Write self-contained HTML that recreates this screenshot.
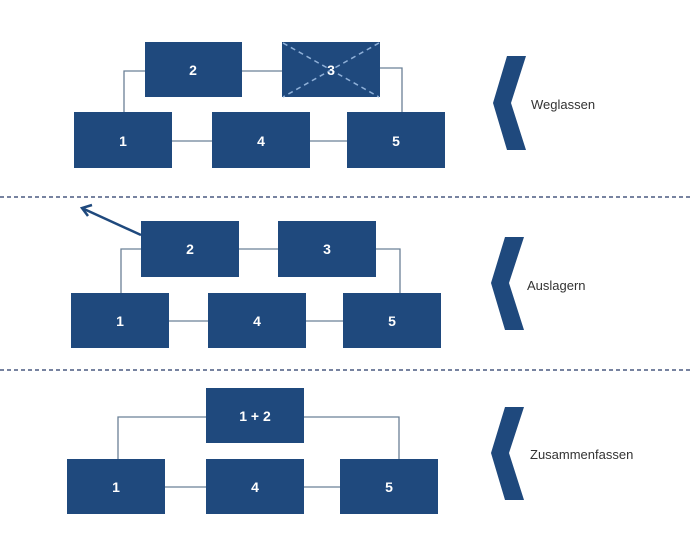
<!DOCTYPE html>
<html><head><style>
body{margin:0;background:#fff;width:700px;height:536px;overflow:hidden}
svg text{font-family:"Liberation Sans",sans-serif}
</style></head><body>
<svg width="700" height="536" xmlns="http://www.w3.org/2000/svg">
<g stroke="#6b8096" stroke-width="1.3" fill="none">
<polyline points="124,112 124,71 145,71"/><line x1="242" y1="71" x2="282" y2="71"/><polyline points="380,68 402,68 402,112"/>
<line x1="172" y1="141" x2="212" y2="141"/><line x1="310" y1="141" x2="347" y2="141"/>
<polyline points="121,293 121,249 141,249"/><line x1="239" y1="249" x2="278" y2="249"/><polyline points="376,249 400,249 400,293"/>
<line x1="169" y1="321" x2="208" y2="321"/><line x1="306" y1="321" x2="343" y2="321"/>
<polyline points="118,459 118,417 206,417"/><polyline points="304,417 399,417 399,459"/>
<line x1="165" y1="487" x2="206" y2="487"/><line x1="304" y1="487" x2="340" y2="487"/>
</g>
<g stroke="#4a5a80" stroke-width="1.5" stroke-dasharray="4,3">
<line x1="0" y1="197" x2="690" y2="197"/><line x1="0" y1="370" x2="690" y2="370"/>
</g>
<g fill="#1f497d">
<rect x="145" y="42" width="97" height="55"/><rect x="282" y="42" width="98" height="55"/>
<rect x="74" y="112" width="98" height="56"/><rect x="212" y="112" width="98" height="56"/><rect x="347" y="112" width="98" height="56"/>
<rect x="141" y="221" width="98" height="56"/><rect x="278" y="221" width="98" height="56"/>
<rect x="71" y="293" width="98" height="55"/><rect x="208" y="293" width="98" height="55"/><rect x="343" y="293" width="98" height="55"/>
<rect x="206" y="388" width="98" height="55"/>
<rect x="67" y="459" width="98" height="55"/><rect x="206" y="459" width="98" height="55"/><rect x="340" y="459" width="98" height="55"/>
<polygon points="507,56 526,56 511,103 526,150 507,150 493,103"/>
<polygon points="505,237 524,237 509,283 524,330 505,330 491,283"/>
<polygon points="505,407 524,407 509,453 524,500 505,500 491,453"/>
</g>
<g stroke="#8fb0d8" stroke-width="1.5" stroke-dasharray="5,4">
<line x1="283" y1="43" x2="379" y2="97"/><line x1="379" y1="43" x2="283" y2="97"/>
</g>
<g stroke="#1f497d" stroke-width="2.5" fill="none">
<line x1="141" y1="235" x2="84" y2="209"/><polyline points="92,205 82,208 88,216"/>
</g>
<g fill="#fff" font-size="14" font-weight="bold" text-anchor="middle">
<text x="193" y="75">2</text><text x="331" y="75">3</text>
<text x="123" y="146">1</text><text x="261" y="146">4</text><text x="396" y="146">5</text>
<text x="190" y="254">2</text><text x="327" y="254">3</text>
<text x="120" y="326">1</text><text x="257" y="326">4</text><text x="392" y="326">5</text>
<text x="255" y="421">1 + 2</text>
<text x="116" y="492">1</text><text x="255" y="492">4</text><text x="389" y="492">5</text>
</g>
<g fill="#333" font-size="13">
<text x="531" y="109">Weglassen</text><text x="527" y="290">Auslagern</text><text x="530" y="459">Zusammenfassen</text>
</g>
</svg>
</body></html>
